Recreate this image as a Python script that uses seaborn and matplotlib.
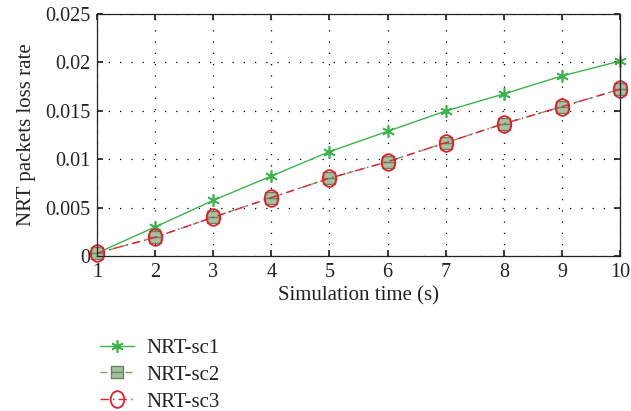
import matplotlib
matplotlib.use("Agg")
import matplotlib.pyplot as plt
from matplotlib.path import Path
import seaborn as sns
import pandas as pd

time_s = [1, 2, 3, 4, 5, 6, 7, 8, 9, 10]
sc1 = [0.0003, 0.0030, 0.00575, 0.00826, 0.01078, 0.01288, 0.01498, 0.01674, 0.0186, 0.02014]
sc2 = [0.0003, 0.00193, 0.0040, 0.00603, 0.00803, 0.00974, 0.0117, 0.01367, 0.01543, 0.01722]
sc3 = [0.0003, 0.00193, 0.0040, 0.00603, 0.00803, 0.00974, 0.0117, 0.01367, 0.01543, 0.01722]
labels = ["NRT-sc1", "NRT-sc2", "NRT-sc3"]
yticks = [0, 0.005, 0.01, 0.015, 0.02, 0.025]
ytick_labels = ["0", "0.005", "0.01", "0.015", "0.02", "0.025"]

sns.set_theme(style="white")
plt.rcParams['font.family'] = ['Liberation Serif', 'DejaVu Serif']

df = pd.DataFrame({"time": time_s * 3,
                   "rate": sc1 + sc2 + sc3,
                   "series": [labels[0]] * 10 + [labels[1]] * 10 + [labels[2]] * 10})

# tall ellipse marker
circ = Path.unit_circle()
ellipse = Path(circ.vertices * [0.82, 1.0], circ.codes)
# square with a horizontal bar
sq_bar = Path([(-1, -1), (1, -1), (1, 1), (-1, 1), (-1, -1), (-1, 0), (1, 0)],
              [Path.MOVETO, Path.LINETO, Path.LINETO, Path.LINETO, Path.CLOSEPOLY,
               Path.MOVETO, Path.LINETO])

fig = plt.figure(figsize=(6.31, 4.11), dpi=100)
ax = fig.add_axes([97 / 631, 1 - 256 / 411, (620 - 97) / 631, (256 - 14) / 411])

styles = {
    labels[0]: dict(color="#3cb44b", linestyle="-", marker=(6, 2, 0), markersize=9,
                    markerfacecolor="#3cb44b", markeredgecolor="#3cb44b", markeredgewidth=1.2),
    labels[1]: dict(color="#7a9a72", linestyle=(0, (5, 4)), marker=sq_bar, markersize=9,
                    markerfacecolor="#a9bfa4", markeredgecolor="#5f8a5a", markeredgewidth=1.0),
    labels[2]: dict(color="#e0202e", linestyle=(0, (6, 3, 1, 3)), marker=ellipse, markersize=12,
                    markerfacecolor="none", markeredgecolor="#e0202e", markeredgewidth=1.3),
}

for lab in labels:
    sub = df[df["series"] == lab]
    st = styles[lab]
    sns.lineplot(data=sub, x="time", y="rate", ax=ax, label=lab, color=st["color"],
                 linewidth=1.0, estimator=None, legend=False)
    line = ax.lines[-1]
    line.set_linestyle(st["linestyle"])
    line.set_marker(st["marker"])
    line.set_markersize(st["markersize"])
    line.set_markerfacecolor(st["markerfacecolor"])
    line.set_markeredgecolor(st["markeredgecolor"])
    line.set_markeredgewidth(st["markeredgewidth"])
    line.set_clip_on(False)

ax.set_xlim(1, 10)
ax.set_ylim(0, 0.025)
ax.set_xticks(time_s)
ax.set_xticklabels([str(t) for t in time_s])
ax.set_yticks(yticks)
ax.set_yticklabels(ytick_labels)
ax.grid(True, linestyle=(0, (1, 8)), color="black", linewidth=0.9)
ax.tick_params(direction="in", length=4, top=True, right=True, labelsize=14.5, colors="#222222",
               bottom=True, left=True, pad=5)
for sp in ax.spines.values():
    sp.set_color("#222222")
    sp.set_linewidth(0.9)
ax.set_xlabel("Simulation time (s)", fontsize=15, color="#222222", labelpad=3)
ax.set_ylabel("NRT packets loss rate", fontsize=15, color="#222222", labelpad=6)

handles = ax.lines[:3]
leg = fig.legend(handles, labels, loc="upper left", bbox_to_anchor=(92 / 631, 1 - 330 / 411),
                 frameon=False, fontsize=15, handlelength=1.6, labelspacing=0.35,
                 borderaxespad=0, handletextpad=0.6)
for t in leg.get_texts():
    t.set_color("#222222")

fig.savefig("out.png", dpi=100)
